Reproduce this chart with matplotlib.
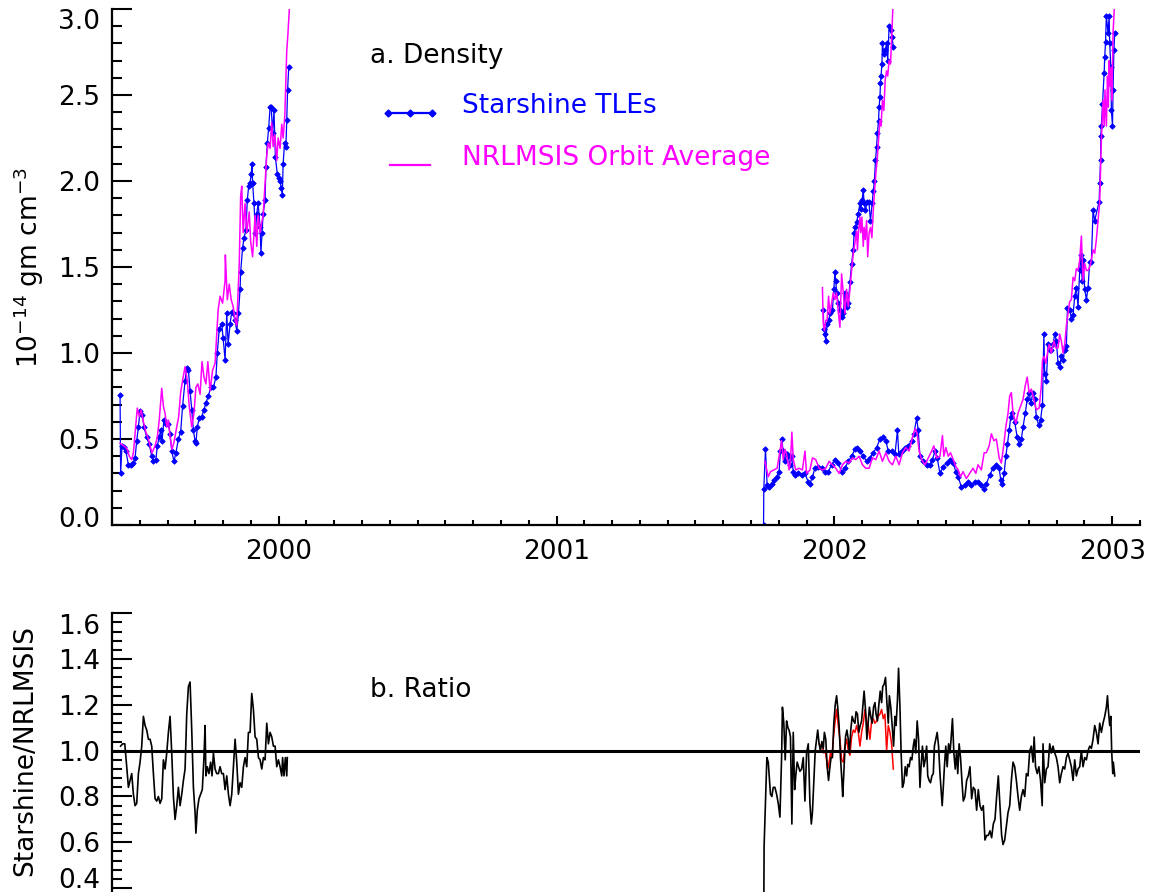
import matplotlib
matplotlib.use("Agg")
import matplotlib.pyplot as plt
from matplotlib.ticker import MultipleLocator, FormatStrFormatter
from matplotlib.lines import Line2D
from matplotlib.transforms import ScaledTranslation

# ---------------- data ----------------
# Starshine 1 TLE density (1e-14 g/cm3)
ss1_tle_yr = [1999.429, 1999.431, 1999.436, 1999.443, 1999.450, 1999.459, 1999.467, 1999.477, 1999.483, 1999.489,
              1999.495, 1999.501, 1999.509, 1999.515, 1999.525, 1999.534, 1999.543, 1999.549, 1999.558, 1999.563,
              1999.570, 1999.575, 1999.580, 1999.587, 1999.594, 1999.603, 1999.609, 1999.615, 1999.623, 1999.630,
              1999.639, 1999.647, 1999.654, 1999.663, 1999.669, 1999.675, 1999.681, 1999.687, 1999.693, 1999.699,
              1999.702, 1999.707, 1999.714, 1999.723, 1999.731, 1999.738, 1999.747, 1999.755, 1999.765, 1999.774,
              1999.779, 1999.786, 1999.795, 1999.800, 1999.807, 1999.813, 1999.818, 1999.825, 1999.831, 1999.836,
              1999.843, 1999.849, 1999.855, 1999.861, 1999.863, 1999.870, 1999.875, 1999.882, 1999.887, 1999.892,
              1999.897, 1999.901, 1999.904, 1999.906, 1999.911, 1999.916, 1999.921, 1999.926, 1999.933, 1999.936,
              1999.940, 1999.944, 1999.951, 1999.954, 1999.959, 1999.964, 1999.969, 1999.973, 1999.978, 1999.983,
              1999.988, 1999.995, 2000.000, 2000.005, 2000.009, 2000.013, 2000.016, 2000.021, 2000.026, 2000.029,
              2000.032, 2000.036]
ss1_tle = [0.756, 0.30, 0.46, 0.455, 0.43, 0.35, 0.35, 0.36, 0.39, 0.49,
           0.57, 0.66, 0.64, 0.57, 0.51, 0.47, 0.40, 0.37, 0.38, 0.46,
           0.51, 0.55, 0.49, 0.61, 0.59, 0.59, 0.53, 0.43, 0.37, 0.42,
           0.50, 0.54, 0.69, 0.84, 0.91, 0.90, 0.78, 0.67, 0.55, 0.49,
           0.475, 0.57, 0.62, 0.63, 0.67, 0.71, 0.75, 0.80, 0.80, 0.86,
           1.00, 1.14, 1.17, 1.085, 0.96, 1.23, 1.05, 1.17, 1.24, 1.23,
           1.19, 1.13, 1.23, 1.37, 1.47, 1.61, 1.67, 1.715, 1.89, 1.97,
           1.99, 2.04, 2.10, 1.99, 1.87, 1.70, 1.81, 1.87, 1.73, 1.58,
           1.70, 1.81, 1.89, 2.08, 2.22, 2.31, 2.43, 2.43, 2.28, 2.41,
           2.14, 2.04, 2.02, 2.00, 1.96, 1.92, 2.10, 2.22, 2.20, 2.355,
           2.53, 2.66]

# Starshine 1 NRLMSIS orbit average
ss1_msis_yr = [1999.429, 1999.438, 1999.447, 1999.455, 1999.462, 1999.471, 1999.477, 1999.484, 1999.491, 1999.498,
               1999.505, 1999.513, 1999.522, 1999.531, 1999.537, 1999.544, 1999.555, 1999.563, 1999.570, 1999.579,
               1999.585, 1999.591, 1999.597, 1999.603, 1999.609, 1999.616, 1999.623, 1999.633, 1999.640, 1999.647,
               1999.654, 1999.663, 1999.671, 1999.678, 1999.687, 1999.695, 1999.702, 1999.709, 1999.717, 1999.724,
               1999.731, 1999.738, 1999.745, 1999.753, 1999.762, 1999.771, 1999.777, 1999.782, 1999.789, 1999.798,
               1999.807, 1999.808, 1999.815, 1999.822, 1999.829, 1999.836, 1999.843, 1999.849, 1999.855, 1999.858,
               1999.863, 1999.867, 1999.872, 1999.879, 1999.885, 1999.894, 1999.899, 1999.906, 1999.915, 1999.921,
               1999.926, 1999.933, 1999.939, 1999.944, 1999.951, 1999.957, 1999.962, 1999.969, 1999.975, 1999.980,
               1999.986, 1999.993, 1999.998, 2000.005, 2000.011, 2000.016, 2000.022, 2000.029, 2000.033, 2000.038,
               2000.040]
ss1_msis = [0.475, 0.465, 0.455, 0.44, 0.40, 0.38, 0.42, 0.55, 0.68, 0.63,
            0.67, 0.60, 0.54, 0.50, 0.46, 0.42, 0.46, 0.51, 0.61, 0.795,
            0.69, 0.65, 0.57, 0.61, 0.51, 0.44, 0.48, 0.57, 0.63, 0.77,
            0.84, 0.92, 0.84, 0.69, 0.57, 0.65, 0.80, 0.82, 0.76, 0.95,
            0.86, 0.82, 0.95, 0.78, 0.90, 0.94, 1.11, 1.25, 1.33, 1.29,
            1.42, 1.57, 1.31, 1.40, 1.31, 1.27, 1.19, 1.16, 1.40, 1.52,
            1.91, 1.97, 1.70, 1.87, 1.70, 1.82, 1.65, 1.56, 1.80, 1.62,
            1.80, 1.70, 1.76, 1.80, 1.99, 2.15, 2.22, 2.19, 2.34, 2.20,
            2.27, 2.12, 2.25, 2.19, 2.33, 2.25, 2.38, 2.76, 2.85, 2.99,
            3.10]

# Starshine 2 TLE density
ss2_tle_yr = [2001.960, 2001.962, 2001.966, 2001.969, 2001.974, 2001.979, 2001.986, 2001.993, 2001.998, 2002.002,
              2002.005, 2002.008, 2002.014, 2002.020, 2002.026, 2002.032, 2002.038, 2002.044, 2002.050, 2002.056,
              2002.062, 2002.068, 2002.071, 2002.076, 2002.080, 2002.086, 2002.092, 2002.095, 2002.100, 2002.104,
              2002.107, 2002.112, 2002.118, 2002.124, 2002.130, 2002.136, 2002.140, 2002.144, 2002.148, 2002.152,
              2002.155, 2002.159, 2002.161, 2002.164, 2002.166, 2002.168, 2002.171, 2002.173, 2002.178, 2002.183,
              2002.188, 2002.192, 2002.197, 2002.202, 2002.207, 2002.212]
ss2_tle = [1.25, 1.14, 1.11, 1.07, 1.17, 1.19, 1.23, 1.25, 1.37, 1.47,
           1.42, 1.35, 1.29, 1.25, 1.21, 1.23, 1.35, 1.27, 1.29, 1.41,
           1.52, 1.60, 1.70, 1.73, 1.76, 1.81, 1.87, 1.84, 1.89, 1.95,
           1.87, 1.83, 1.88, 1.88, 1.77, 1.87, 1.94, 2.00, 2.12, 2.20,
           2.28, 2.35, 2.43, 2.49, 2.57, 2.61, 2.68, 2.80, 2.74, 2.76,
           2.80, 2.70, 2.90, 2.88, 2.84, 2.78]

# Starshine 2 NRLMSIS
ss2_msis_yr = [2001.957, 2001.960, 2001.964, 2001.969, 2001.974, 2001.979, 2001.984, 2001.990, 2001.996, 2002.002,
               2002.008, 2002.014, 2002.020, 2002.026, 2002.032, 2002.038, 2002.044, 2002.050, 2002.056, 2002.062,
               2002.068, 2002.074, 2002.080, 2002.083, 2002.087, 2002.092, 2002.095, 2002.099, 2002.104, 2002.107,
               2002.111, 2002.116, 2002.120, 2002.125, 2002.130, 2002.135, 2002.140, 2002.144, 2002.149, 2002.154,
               2002.159, 2002.164, 2002.168, 2002.173, 2002.178, 2002.183, 2002.188, 2002.192, 2002.197, 2002.202,
               2002.207, 2002.210, 2002.212]
ss2_msis = [1.38, 1.17, 1.13, 1.19, 1.19, 1.33, 1.23, 1.29, 1.35, 1.31,
            1.35, 1.24, 1.15, 1.46, 1.35, 1.23, 1.37, 1.27, 1.37, 1.48,
            1.58, 1.64, 1.71, 1.60, 1.71, 1.79, 1.70, 1.79, 1.62, 1.73,
            1.66, 1.77, 1.56, 1.70, 1.73, 1.67, 1.83, 1.93, 2.04, 2.12,
            2.24, 2.35, 2.32, 2.47, 2.41, 2.59, 2.64, 2.61, 2.70, 2.68,
            2.86, 2.99, 3.10]

# Starshine 3 TLE density
ss3_tle_yr = [2001.745, 2001.746, 2001.752, 2001.758, 2001.765, 2001.774, 2001.782, 2001.792, 2001.801, 2001.806,
              2001.810, 2001.816, 2001.822, 2001.828, 2001.834, 2001.840, 2001.846, 2001.852, 2001.858, 2001.870,
              2001.882, 2001.894, 2001.906, 2001.912, 2001.921, 2001.930, 2001.942, 2001.954, 2001.966, 2001.978,
              2001.990, 2002.002, 2002.014, 2002.026, 2002.038, 2002.050, 2002.062, 2002.074, 2002.082, 2002.092,
              2002.104, 2002.116, 2002.128, 2002.140, 2002.152, 2002.164, 2002.176, 2002.185, 2002.194, 2002.206,
              2002.218, 2002.227, 2002.232, 2002.242, 2002.254, 2002.266, 2002.278, 2002.286, 2002.296, 2002.302,
              2002.308, 2002.320, 2002.332, 2002.344, 2002.353, 2002.362, 2002.370,
              2002.380, 2002.392, 2002.404, 2002.416, 2002.428, 2002.437, 2002.446, 2002.457, 2002.469, 2002.481,
              2002.493, 2002.505, 2002.517, 2002.529, 2002.538, 2002.547, 2002.559, 2002.571, 2002.583, 2002.593,
              2002.599, 2002.605, 2002.611, 2002.617, 2002.623, 2002.629, 2002.635, 2002.641, 2002.649, 2002.658,
              2002.665, 2002.673, 2002.679, 2002.687, 2002.694, 2002.701, 2002.707, 2002.715, 2002.721, 2002.727,
              2002.735, 2002.742, 2002.749, 2002.754, 2002.757, 2002.763, 2002.769, 2002.775, 2002.781, 2002.787,
              2002.793, 2002.799, 2002.805, 2002.811, 2002.817, 2002.823, 2002.829, 2002.835, 2002.839, 2002.847,
              2002.853, 2002.859, 2002.865, 2002.871, 2002.877, 2002.883, 2002.887, 2002.892, 2002.895, 2002.901,
              2002.907, 2002.913, 2002.919, 2002.925, 2002.931, 2002.937, 2002.953, 2002.955, 2002.958, 2002.959,
              2002.961, 2002.965, 2002.971, 2002.973, 2002.976, 2002.979, 2002.985, 2002.989, 2002.991, 2002.995,
              2002.997, 2003.001, 2003.003, 2003.006, 2003.009]
ss3_tle = [0.00, 0.21, 0.44, 0.23, 0.22, 0.24, 0.26, 0.28, 0.31, 0.43,
           0.50, 0.43, 0.37, 0.41, 0.40, 0.35, 0.40, 0.31, 0.29, 0.30,
           0.29, 0.30, 0.25, 0.24, 0.28, 0.33, 0.34, 0.33, 0.31, 0.31,
           0.35, 0.38, 0.36, 0.31, 0.33, 0.37, 0.40, 0.44, 0.45, 0.43,
           0.40, 0.37, 0.39, 0.42, 0.45, 0.50, 0.51, 0.49, 0.43, 0.43,
           0.41, 0.55, 0.41, 0.43, 0.45, 0.46, 0.49, 0.53, 0.62, 0.55,
           0.40, 0.37, 0.35, 0.35, 0.38, 0.43, 0.39,
           0.30, 0.34, 0.36, 0.38, 0.36, 0.31, 0.28, 0.22, 0.23, 0.25,
           0.23, 0.25, 0.25, 0.23, 0.21, 0.24, 0.29, 0.33, 0.35, 0.33,
           0.26, 0.24, 0.30, 0.40, 0.47, 0.55, 0.63, 0.65, 0.60, 0.51,
           0.47, 0.50, 0.57, 0.65, 0.73, 0.77, 0.71, 0.77, 0.73, 0.63,
           0.58, 0.61, 0.70, 1.11, 0.88, 0.84, 1.05, 1.02, 1.02, 1.05,
           1.11, 1.07, 0.94, 0.92, 0.98, 0.96, 1.02, 1.04, 1.26, 1.25,
           1.20, 1.22, 1.33, 1.38, 1.27, 1.48, 1.57, 1.42, 1.54, 1.37,
           1.31, 1.38, 1.53, 1.53, 1.83, 1.77, 1.88, 1.99, 2.12, 2.26,
           2.32, 2.45, 2.63, 2.72, 2.81, 2.96, 2.86, 2.96, 2.80, 2.66,
           2.41, 2.32, 2.53, 2.76, 2.86]

# Starshine 3 NRLMSIS
ss3_msis_yr = [2001.750, 2001.762, 2001.770, 2001.782, 2001.794, 2001.804, 2001.810, 2001.816, 2001.822, 2001.828,
               2001.837, 2001.842, 2001.847, 2001.852, 2001.861, 2001.873, 2001.885, 2001.894, 2001.900, 2001.912,
               2001.921, 2001.933, 2001.945, 2001.957, 2001.969, 2001.981, 2001.993, 2002.005, 2002.017, 2002.029,
               2002.041, 2002.053, 2002.065, 2002.077, 2002.089, 2002.101, 2002.113, 2002.125, 2002.137, 2002.149,
               2002.161, 2002.173, 2002.185, 2002.197, 2002.209, 2002.221, 2002.233, 2002.245, 2002.257, 2002.269,
               2002.281, 2002.291, 2002.298, 2002.305, 2002.314, 2002.326, 2002.338, 2002.350, 2002.358, 2002.368,
               2002.380, 2002.389, 2002.394, 2002.401, 2002.410, 2002.418, 2002.428, 2002.437, 2002.446, 2002.454,
               2002.463, 2002.475, 2002.487, 2002.499, 2002.509, 2002.517, 2002.529, 2002.539, 2002.547, 2002.557,
               2002.565, 2002.574, 2002.583, 2002.593, 2002.601, 2002.610, 2002.617, 2002.625, 2002.631, 2002.637,
               2002.643, 2002.653, 2002.661, 2002.670, 2002.679, 2002.687, 2002.694, 2002.701, 2002.709, 2002.718,
               2002.727, 2002.737, 2002.745, 2002.749, 2002.755, 2002.761, 2002.767, 2002.773, 2002.781, 2002.790,
               2002.797, 2002.805, 2002.811, 2002.817, 2002.823, 2002.829, 2002.835, 2002.841, 2002.847, 2002.853,
               2002.859, 2002.865, 2002.871, 2002.877, 2002.883, 2002.889, 2002.895, 2002.901, 2002.907, 2002.913,
               2002.919, 2002.925, 2002.931, 2002.937, 2002.943, 2002.949, 2002.955, 2002.961, 2002.967, 2002.971,
               2002.974, 2002.979, 2002.983, 2002.986, 2002.989, 2002.992, 2002.996, 2002.999, 2003.003, 2003.007,
               2003.009]
ss3_msis = [0.37, 0.28, 0.31, 0.32, 0.33, 0.43, 0.49, 0.38, 0.44, 0.41,
            0.32, 0.37, 0.54, 0.38, 0.32, 0.33, 0.32, 0.43, 0.30, 0.32,
            0.39, 0.38, 0.33, 0.32, 0.33, 0.37, 0.35, 0.33, 0.30, 0.35,
            0.37, 0.36, 0.39, 0.38, 0.40, 0.35, 0.33, 0.33, 0.39, 0.38,
            0.43, 0.37, 0.42, 0.37, 0.35, 0.40, 0.35, 0.42, 0.45, 0.43,
            0.51, 0.56, 0.53, 0.43, 0.38, 0.35, 0.39, 0.43, 0.46, 0.39,
            0.40, 0.52, 0.40, 0.45, 0.40, 0.42, 0.38, 0.34, 0.32, 0.28,
            0.31, 0.27, 0.30, 0.33, 0.30, 0.35, 0.32, 0.42, 0.42, 0.46,
            0.53, 0.49, 0.50, 0.39, 0.36, 0.47, 0.57, 0.65, 0.75, 0.77,
            0.65, 0.59, 0.65, 0.69, 0.73, 0.81, 0.86, 0.77, 0.79, 0.73,
            0.67, 0.68, 0.81, 0.96, 0.98, 0.94, 1.00, 1.05, 1.00, 1.07,
            1.03, 1.03, 1.11, 1.07, 1.00, 1.05, 1.16, 1.23, 1.30, 1.31,
            1.44, 1.42, 1.49, 1.48, 1.54, 1.68, 1.42, 1.52, 1.48, 1.48,
            1.50, 1.54, 1.60, 1.58, 1.66, 1.77, 1.88, 2.24, 2.47, 2.32,
            2.53, 2.32, 2.61, 2.43, 2.70, 2.55, 2.66, 2.47, 2.86, 2.99,
            3.10]

# Ratio Starshine/NRLMSIS
ratio1_yr = [1999.431, 1999.438, 1999.446, 1999.453, 1999.459, 1999.465, 1999.471, 1999.477, 1999.483, 1999.489,
             1999.495, 1999.501, 1999.507, 1999.513, 1999.519, 1999.525, 1999.531, 1999.537, 1999.543, 1999.549,
             1999.555, 1999.561, 1999.567, 1999.573, 1999.579, 1999.585, 1999.591, 1999.597, 1999.603, 1999.609,
             1999.615, 1999.621, 1999.627, 1999.633, 1999.639, 1999.645, 1999.651, 1999.657, 1999.663, 1999.669,
             1999.675, 1999.681, 1999.687, 1999.693, 1999.699, 1999.702, 1999.707, 1999.713, 1999.719, 1999.725,
             1999.731, 1999.735, 1999.738, 1999.743, 1999.749, 1999.755, 1999.760, 1999.765, 1999.771, 1999.777,
             1999.783, 1999.789, 1999.795, 1999.801, 1999.807, 1999.813, 1999.819, 1999.825, 1999.831, 1999.837,
             1999.843, 1999.849, 1999.855, 1999.861, 1999.867, 1999.873, 1999.879, 1999.885, 1999.891, 1999.897,
             1999.903, 1999.909, 1999.915, 1999.921, 1999.927, 1999.933, 1999.939, 1999.945, 1999.951, 1999.957,
             1999.963, 1999.969, 1999.975, 1999.981, 1999.987, 1999.993, 1999.999, 2000.005, 2000.011, 2000.014,
             2000.019, 2000.024, 2000.029, 2000.031]
ratio1 = [1.02, 1.03, 1.03, 0.93, 0.84, 0.87, 0.90, 0.81, 0.76, 0.77,
          0.90, 0.95, 1.02, 1.15, 1.11, 1.09, 1.05, 1.05, 1.02, 0.90,
          0.79, 0.78, 0.80, 0.77, 0.79, 0.96, 0.92, 0.99, 1.08, 1.15,
          0.99, 0.80, 0.70, 0.76, 0.84, 0.76, 0.81, 0.87, 0.92, 1.16,
          1.28, 1.30, 1.09, 0.84, 0.73, 0.64, 0.74, 0.79, 0.81, 0.83,
          0.97, 1.11, 0.89, 0.93, 0.90, 0.95, 0.89, 0.99, 0.92, 0.90,
          0.90, 0.93, 0.90, 0.90, 0.83, 0.89, 0.81, 0.76, 0.81, 0.93,
          1.05, 0.95, 0.81, 0.86, 0.84, 0.93, 0.97, 0.93, 1.08, 1.08,
          1.25, 1.18, 1.06, 1.05, 0.97, 0.96, 0.92, 0.97, 0.96, 1.12,
          1.03, 1.08, 1.06, 1.02, 1.02, 0.93, 0.96, 0.93, 0.89, 0.97,
          0.89, 0.97, 0.89, 0.97]

ratio2_yr = [2001.945, 2001.951, 2001.957, 2001.962, 2001.967, 2001.972, 2001.976, 2001.981, 2001.986, 2001.991,
             2001.996, 2002.002, 2002.008, 2002.014, 2002.020, 2002.026, 2002.032, 2002.038, 2002.044, 2002.050,
             2002.056, 2002.062, 2002.068, 2002.074, 2002.080, 2002.086, 2002.092, 2002.098, 2002.104, 2002.110,
             2002.116, 2002.122, 2002.128, 2002.134, 2002.140, 2002.146, 2002.152, 2002.158, 2002.164, 2002.170,
             2002.176, 2002.182, 2002.188, 2002.194, 2002.200, 2002.206, 2002.212]
ratio2 = [1.03, 1.02, 1.02, 0.99, 1.00, 0.96, 0.92, 0.95, 0.99, 0.97,
          1.05, 1.12, 1.18, 1.11, 1.05, 0.96, 0.95, 1.02, 1.05, 1.00,
          0.98, 1.06, 1.09, 1.08, 1.11, 1.08, 1.02, 1.08, 1.12, 1.18,
          1.13, 1.11, 1.05, 1.13, 1.14, 1.12, 1.13, 1.15, 1.16, 1.18,
          1.14, 1.16, 1.00, 1.11, 1.08, 1.03, 0.92]

ratio3_yr = [2001.746, 2001.747, 2001.752, 2001.757, 2001.762, 2001.765, 2001.770, 2001.775, 2001.780, 2001.786,
             2001.792, 2001.798, 2001.804, 2001.810, 2001.813, 2001.818, 2001.823, 2001.828, 2001.833, 2001.837,
             2001.842, 2001.847, 2001.852, 2001.857, 2001.861, 2001.866, 2001.871, 2001.876, 2001.882, 2001.888,
             2001.894, 2001.900, 2001.906, 2001.912, 2001.917, 2001.921, 2001.926, 2001.931, 2001.936, 2001.940,
             2001.945, 2001.950, 2001.955, 2001.960, 2001.964, 2001.969, 2001.974, 2001.979, 2001.984, 2001.988,
             2001.993, 2001.998, 2002.003, 2002.008, 2002.012, 2002.017, 2002.022, 2002.027, 2002.030, 2002.035,
             2002.040, 2002.045, 2002.050, 2002.054, 2002.059, 2002.064, 2002.069, 2002.074, 2002.078, 2002.083,
             2002.088, 2002.093, 2002.098, 2002.102, 2002.107, 2002.112, 2002.117, 2002.122, 2002.126, 2002.131,
             2002.136, 2002.141, 2002.146, 2002.150, 2002.155, 2002.160, 2002.165, 2002.170, 2002.174, 2002.179,
             2002.184, 2002.189, 2002.194, 2002.198, 2002.203, 2002.208, 2002.213, 2002.218, 2002.222, 2002.227,
             2002.231, 2002.236, 2002.240, 2002.245, 2002.250, 2002.255, 2002.260, 2002.264, 2002.269, 2002.274,
             2002.279, 2002.284, 2002.288, 2002.293, 2002.298, 2002.303, 2002.308, 2002.312, 2002.317, 2002.322,
             2002.327, 2002.332, 2002.336, 2002.341, 2002.346, 2002.351, 2002.356, 2002.360, 2002.365, 2002.370,
             2002.375, 2002.380, 2002.384, 2002.388, 2002.392, 2002.396, 2002.401, 2002.406, 2002.411, 2002.416,
             2002.420, 2002.425, 2002.430, 2002.435, 2002.440, 2002.444, 2002.449, 2002.454, 2002.459, 2002.464,
             2002.470, 2002.476, 2002.482, 2002.488, 2002.494, 2002.500, 2002.506, 2002.512, 2002.518, 2002.524,
             2002.530, 2002.536, 2002.542, 2002.548, 2002.554, 2002.560, 2002.566, 2002.572, 2002.578, 2002.584,
             2002.590, 2002.596, 2002.602, 2002.607, 2002.613, 2002.619, 2002.625, 2002.631, 2002.637, 2002.643,
             2002.649, 2002.655, 2002.661, 2002.667, 2002.673, 2002.679, 2002.685, 2002.691, 2002.697, 2002.703,
             2002.709, 2002.715, 2002.719, 2002.724, 2002.730, 2002.736, 2002.742, 2002.748, 2002.751, 2002.757,
             2002.763, 2002.769, 2002.775, 2002.781, 2002.787, 2002.793, 2002.799, 2002.805, 2002.811, 2002.817,
             2002.823, 2002.829, 2002.835, 2002.841, 2002.847, 2002.853, 2002.859, 2002.865, 2002.871, 2002.877,
             2002.883, 2002.889, 2002.895, 2002.901, 2002.907, 2002.913, 2002.919, 2002.925, 2002.931, 2002.937,
             2002.943, 2002.949, 2002.955, 2002.961, 2002.967, 2002.973, 2002.979, 2002.983, 2002.986, 2002.991,
             2002.995, 2002.998, 2003.002, 2003.004, 2003.009]
ratio3 = [0.30, 0.58, 0.78, 0.97, 0.95, 0.90, 0.81, 0.80, 0.84, 0.84,
          0.81, 0.77, 0.71, 0.97, 1.19, 1.12, 0.96, 1.13, 1.10, 1.09,
          1.06, 0.68, 1.08, 0.83, 0.89, 0.95, 0.93, 0.91, 0.92, 0.97,
          0.78, 0.99, 1.03, 0.77, 0.68, 0.73, 0.86, 1.00, 1.05, 1.09,
          1.03, 1.00, 1.04, 1.01, 1.08, 1.05, 0.93, 0.87, 0.93, 0.97,
          0.97, 1.12, 1.20, 1.24, 1.19, 1.11, 0.97, 0.87, 0.80, 0.93,
          1.06, 1.09, 1.05, 0.99, 1.09, 1.15, 1.13, 1.12, 1.17, 1.16,
          1.08, 1.11, 1.13, 1.19, 1.26, 1.18, 1.05, 1.13, 1.19, 1.15,
          1.12, 1.19, 1.21, 1.16, 1.13, 1.20, 1.26, 1.21, 1.28, 1.29,
          1.32, 1.21, 1.12, 1.24, 1.19, 1.11, 1.02, 1.15, 1.11, 1.22,
          1.36, 1.19, 1.00, 0.84, 0.86, 0.93, 0.89, 0.94, 0.93, 0.97,
          0.96, 1.02, 1.05, 0.99, 1.13, 1.05, 0.84, 0.93, 1.02, 0.93,
          0.96, 1.02, 0.89, 0.87, 0.86, 0.89, 0.90, 1.02, 1.05, 1.08,
          1.02, 0.90, 0.83, 0.76, 0.84, 0.93, 1.02, 0.93, 1.03, 0.99,
          1.05, 1.14, 0.99, 0.92, 1.00, 0.90, 1.03, 0.97, 0.87, 0.78,
          0.80, 0.87, 0.89, 0.93, 0.79, 0.84, 0.83, 0.74, 0.83, 0.76,
          0.74, 0.76, 0.61, 0.63, 0.63, 0.65, 0.62, 0.68, 0.70, 0.80,
          0.89, 0.76, 0.63, 0.59, 0.61, 0.67, 0.73, 0.76, 0.87, 0.95,
          0.93, 0.87, 0.80, 0.74, 0.80, 0.83, 0.80, 0.90, 0.89, 1.00,
          1.02, 0.95, 1.06, 0.93, 0.90, 0.93, 0.87, 0.76, 1.03, 0.86,
          0.92, 0.93, 1.03, 0.99, 1.02, 0.99, 0.97, 0.93, 0.86, 0.90,
          0.93, 0.92, 0.97, 0.99, 0.96, 0.93, 0.87, 0.96, 0.89, 0.92,
          0.93, 1.00, 0.93, 0.97, 0.96, 1.00, 1.02, 1.01, 1.05, 1.11,
          1.08, 1.03, 1.12, 1.08, 1.12, 1.15, 1.19, 1.24, 1.18, 1.11,
          1.15, 1.00, 0.90, 0.95, 0.89]

year_ticks = [2000, 2001, 2002, 2003]

# ---------------- figure ----------------
W, H = 1151, 892
FS = 19
plt.rcParams['font.family'] = ['DejaVu Sans']
fig = plt.figure(figsize=(W / 100, H / 100), dpi=100)

x0, x1 = 112, 1140
ax1 = fig.add_axes([x0 / W, 1 - 525 / H, (x1 - x0) / W, (525 - 9) / H])
ax2 = fig.add_axes([x0 / W, 0, (x1 - x0) / W, (H - 613.3) / H])

BLUE = '#0000ff'
MAG = '#ff00ff'

for yr, v in [(ss1_tle_yr, ss1_tle), (ss2_tle_yr, ss2_tle), (ss3_tle_yr, ss3_tle)]:
    ax1.plot(yr, v, color=BLUE, lw=0.9, marker='D', ms=2.8, mew=0.6, mfc=BLUE, mec=BLUE, zorder=2)
for yr, v in [(ss1_msis_yr, ss1_msis), (ss2_msis_yr, ss2_msis), (ss3_msis_yr, ss3_msis)]:
    ax1.plot(yr, v, color=MAG, lw=1.1, zorder=3)

ax1.set_xlim(1999.4, 2003.1)
ax1.set_ylim(0.0, 3.0)
for s in ['top', 'right']:
    ax1.spines[s].set_visible(False)
for s in ['left', 'bottom']:
    ax1.spines[s].set_linewidth(1.6)
ax1.set_xticks(year_ticks)
ax1.set_xticklabels([str(y) for y in year_ticks])
ax1.xaxis.set_minor_locator(MultipleLocator(0.1))
ax1.set_yticks([0.0, 0.5, 1.0, 1.5, 2.0, 2.5, 3.0])
ax1.yaxis.set_minor_locator(MultipleLocator(0.1))
ax1.yaxis.set_major_formatter(FormatStrFormatter('%.1f'))
ax1.tick_params(axis='x', which='major', direction='in', length=6.5, width=1.5, labelsize=FS, pad=10)
ax1.tick_params(axis='x', which='minor', direction='in', length=3.3, width=1.5)
ax1.tick_params(axis='y', which='major', direction='in', length=14.5, width=1.5, labelsize=FS, pad=8.5)
ax1.tick_params(axis='y', which='minor', direction='in', length=7.2, width=1.5)

# legend / title texts (IDL style)
def axfx(px):
    return (px - x0) / (x1 - x0)

def ax1fy(py):
    return (525 - py) / (525 - 9)

ax1.text(axfx(370), ax1fy(63), 'a. Density', transform=ax1.transAxes, fontsize=FS,
         ha='left', va='baseline', color='black')
ax1.text(axfx(462), ax1fy(113), 'Starshine TLEs', transform=ax1.transAxes, fontsize=FS,
         ha='left', va='baseline', color=BLUE)
ax1.text(axfx(462), ax1fy(165), 'NRLMSIS Orbit Average', transform=ax1.transAxes, fontsize=FS,
         ha='left', va='baseline', color=MAG)
ax1.add_line(Line2D([axfx(388), axfx(410), axfx(432)], [ax1fy(113)] * 3, transform=ax1.transAxes,
                    color=BLUE, lw=1.6, marker='D', ms=3.5, mfc=BLUE, mec=BLUE, clip_on=False))
ax1.add_line(Line2D([axfx(390), axfx(430)], [ax1fy(165)] * 2, transform=ax1.transAxes,
                    color=MAG, lw=1.6, clip_on=False))

# ratio panel
ax2.plot(ratio2_yr, ratio2, color='#ff0000', lw=1.1, zorder=2)
ax2.plot(ratio1_yr, ratio1, color='black', lw=1.2, zorder=3)
ax2.plot(ratio3_yr, ratio3, color='black', lw=1.2, zorder=3)
ax2.axhline(1.0, color='black', lw=2.2, zorder=4)
ax2.set_xlim(1999.4, 2003.1)
ax2.set_ylim(1.6 - (H - 613.3) / 229.0, 1.6)
for s in ['top', 'right', 'bottom']:
    ax2.spines[s].set_visible(False)
ax2.spines['left'].set_linewidth(1.6)
ax2.set_xticks([])
ax2.set_yticks([0.4, 0.6, 0.8, 1.0, 1.2, 1.4, 1.6])
ax2.yaxis.set_minor_locator(MultipleLocator(0.04))
ax2.yaxis.set_major_formatter(FormatStrFormatter('%.1f'))
ax2.tick_params(axis='y', which='major', direction='in', length=14.5, width=1.5, labelsize=FS, pad=8.5)
ax2.tick_params(axis='y', which='minor', direction='in', length=7.5, width=1.5)
ax2.text(axfx(370), (H - 696.7) / (H - 613.3), 'b. Ratio', transform=ax2.transAxes, fontsize=FS,
         ha='left', va='baseline', color='black')

# y labels
fig.text(29 / W, 1 - 268 / H, r'10$^{-14}$ gm cm$^{-3}$', rotation=90, ha='center', va='center', fontsize=FS)
fig.text(25 / W, 1 - 750 / H, 'Starshine/NRLMSIS', rotation=90, ha='center', va='center', fontsize=FS)

# IDL places the end tick labels slightly inside the axis range
fig.canvas.draw()

def shift_label(ax, value, dy_px):
    locs = ax.yaxis.get_majorticklocs()
    ticks = ax.yaxis.get_major_ticks(len(locs))
    for loc, t in zip(locs, ticks):
        if abs(loc - value) < 1e-6:
            t.label1.set_transform(t.label1.get_transform() +
                                   ScaledTranslation(0, dy_px / 100.0, fig.dpi_scale_trans))

shift_label(ax1, 3.0, -10)
shift_label(ax1, 0.0, 8)
shift_label(ax2, 1.6, -11)
shift_label(ax2, 0.4, 10)

fig.savefig('out.png', dpi=100)
